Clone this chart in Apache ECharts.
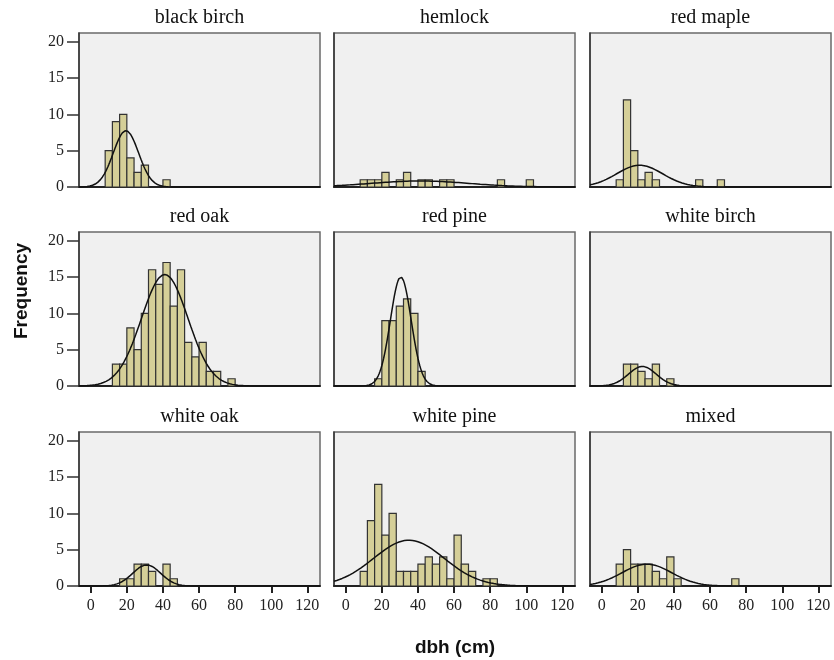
<!DOCTYPE html>
<html>
<head>
<meta charset="utf-8">
<script src="https://cdn.jsdelivr.net/npm/echarts@6/dist/echarts.min.js"></script>
<style>html,body{margin:0;padding:0;background:#fff}#c{width:834px;height:660px}</style>
</head>
<body>
<div id="c"></div>
<script>
// ---- data ----
const panelNames = ['black birch','hemlock','red maple','red oak','red pine','white birch','white oak','white pine','mixed'];
const binWidth = 4;
const binStarts = [8, 8, 8, 12, 16, 12, 16, 8, 8];
const blackBirchCounts = [5,9,10,4,2,3,0,0,1];
const hemlockCounts    = [1,1,1,2,0,1,2,0,1,1,0,1,1,0,0,0,0,0,0,1,0,0,0,1];
const redMapleCounts   = [1,12,5,1,2,1,0,0,0,0,0,1,0,0,1];
const redOakCounts     = [3,3,8,5,10,16,14,17,11,16,6,4,6,2,2,0,1];
const redPineCounts    = [1,9,9,11,12,10,2];
const whiteBirchCounts = [3,3,2,1,3,0,1];
const whiteOakCounts   = [1,1,3,3,2,0,3,1];
const whitePineCounts  = [2,9,14,7,10,2,2,2,3,4,3,4,1,7,3,2,0,1,1];
const mixedCounts      = [3,5,3,3,3,2,1,4,1,0,0,0,0,0,0,0,1];
const allCounts = [blackBirchCounts,hemlockCounts,redMapleCounts,redOakCounts,redPineCounts,whiteBirchCounts,whiteOakCounts,whitePineCounts,mixedCounts];
// fitted normal curve parameters (mean, sd)
const curveMeans = [19.5, 41, 21, 41, 30.5, 22.5, 31, 35, 25];
const curveSDs   = [7.0, 27, 12.8, 12.9, 5.74, 7.7, 7.7, 19.5, 13.8];
const xTickValues = [0,20,40,60,80,100,120];
const yTickValues = [0,5,10,15,20];
const xTitle = 'dbh (cm)';
const yTitle = 'Frequency';

// ---- layout ----
const colLeft = [79, 334, 590];
const colWidth = 241;
const rowTop = [33, 232, 432];
const rowHeight = 154;
const xMin = -6.5, xMax = 127, yMax = 21.2;
const serif = 'Liberation Serif';

const grids = [], xAxes = [], yAxes = [], series = [], graphics = [];
for (let i = 0; i < 9; i++) {
  const r = Math.floor(i / 3), c = i % 3;
  grids.push({left: colLeft[c], top: rowTop[r], width: colWidth, height: rowHeight,
    show: true, backgroundColor: '#f0f0f0', borderColor: '#6a6a6a', borderWidth: 1.5});
  const bottom = r === 2, leftCol = c === 0;
  xAxes.push({type: 'value', gridIndex: i, min: xMin, max: xMax, splitLine: {show: false},
    axisLine: {show: true, onZero: false, lineStyle: {color: '#222', width: 2}},
    axisTick: {show: bottom, length: 7, lineStyle: {color: '#222', width: 2}, customValues: xTickValues},
    axisLabel: {show: bottom, margin: 12, color: '#222', fontFamily: serif, fontSize: 16, customValues: xTickValues}});
  yAxes.push({type: 'value', gridIndex: i, min: 0, max: yMax, splitLine: {show: false},
    axisLine: {show: true, onZero: false, lineStyle: {color: '#333', width: 1.5}},
    axisTick: {show: leftCol, length: 12, lineStyle: {color: '#333', width: 1.5}, customValues: yTickValues},
    axisLabel: {show: leftCol, margin: 15, color: '#222', fontFamily: serif, fontSize: 16, customValues: yTickValues}});
  const bins = allCounts[i].map((v, k) => [binStarts[i] + k * binWidth, binStarts[i] + (k + 1) * binWidth, v]).filter(d => d[2] > 0);
  series.push({type: 'custom', xAxisIndex: i, yAxisIndex: i, data: bins, silent: true,
    encode: {x: [0, 1], y: 2},
    renderItem: function (params, api) {
      const p0 = api.coord([api.value(0), api.value(2)]);
      const p1 = api.coord([api.value(1), 0]);
      return {type: 'rect', shape: {x: p0[0], y: p0[1], width: p1[0] - p0[0], height: p1[1] - p0[1]},
        style: {fill: '#d5cf98', stroke: '#333', lineWidth: 1.2}};
    }});
  const n = allCounts[i].reduce((a, b) => a + b, 0);
  const m = curveMeans[i], s = curveSDs[i];
  const curve = [];
  for (let x = xMin; x <= xMax + 1e-9; x += 0.5) {
    curve.push([x, n * binWidth * Math.exp(-0.5 * ((x - m) / s) ** 2) / (s * Math.sqrt(2 * Math.PI))]);
  }
  series.push({type: 'line', xAxisIndex: i, yAxisIndex: i, data: curve, showSymbol: false, silent: true,
    lineStyle: {color: '#111', width: 1.5}, z: 3});
  graphics.push({type: 'text', x: colLeft[c] + colWidth / 2, y: rowTop[r] - 15,
    style: {text: panelNames[i], font: '20px "Liberation Serif"', fill: '#111', textAlign: 'center', textVerticalAlign: 'middle'}});
}
graphics.push({type: 'text', x: 22, y: 291, rotation: Math.PI / 2,
  style: {text: yTitle, font: 'bold 19px "Liberation Sans"', fill: '#111', textAlign: 'center', textVerticalAlign: 'middle'}});
graphics.push({type: 'text', x: 455, y: 648,
  style: {text: xTitle, font: 'bold 19px "Liberation Sans"', fill: '#111', textAlign: 'center', textVerticalAlign: 'middle'}});

const chart = echarts.init(document.getElementById('c'), null, {renderer: 'canvas'});
chart.setOption({animation: false, grid: grids, xAxis: xAxes, yAxis: yAxes, series: series, graphic: graphics});
</script>
</body>
</html>
